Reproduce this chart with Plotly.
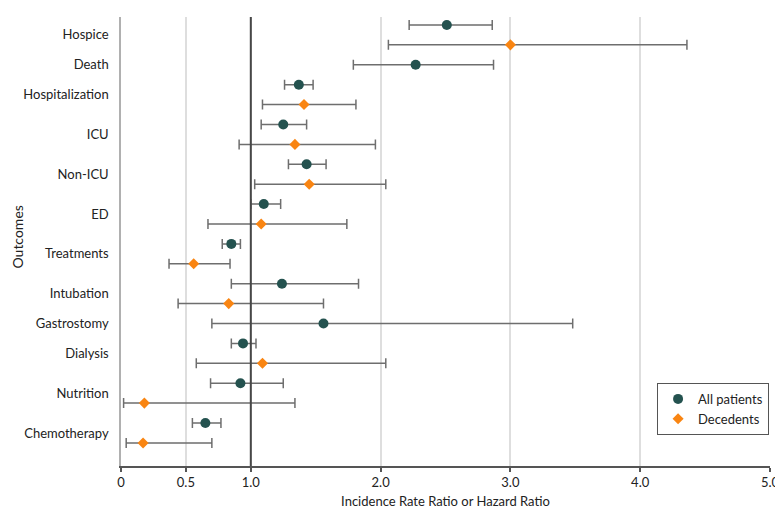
import plotly.graph_objects as go

outcomes = ["Hospice", "Death", "Hospitalization", "ICU", "Non-ICU", "ED",
            "Treatments", "Intubation", "Gastrostomy", "Dialysis", "Nutrition", "Chemotherapy"]

all_est = [2.51, 2.27, 1.37, 1.25, 1.43, 1.10, 0.85, 1.24, 1.56, 0.94, 0.92, 0.65]
all_lo = [2.22, 1.79, 1.26, 1.08, 1.29, 1.00, 0.78, 0.85, 0.70, 0.85, 0.69, 0.55]
all_hi = [2.86, 2.87, 1.48, 1.43, 1.58, 1.23, 0.92, 1.83, 3.48, 1.04, 1.25, 0.77]

dec_est = [3.00, None, 1.41, 1.34, 1.45, 1.08, 0.56, 0.83, None, 1.09, 0.18, 0.17]
dec_lo = [2.06, None, 1.09, 0.91, 1.03, 0.67, 0.37, 0.44, None, 0.58, 0.02, 0.04]
dec_hi = [4.36, None, 1.81, 1.96, 2.04, 1.74, 0.84, 1.56, None, 2.04, 1.34, 0.70]

x_ticks = [0, 0.5, 1, 2, 3, 4, 5]
x_tick_labels = ["0", "0.5", "1.0", "2.0", "3.0", "4.0", "5.0"]

# Build row positions: one row per available estimate, outcome label centred on its rows
row = 0
all_y, dec_y, label_y = [], [], []
for i, name in enumerate(outcomes):
    rows = []
    if all_est[i] is not None:
        all_y.append(row); rows.append(row); row += 1
    else:
        all_y.append(None)
    if dec_est[i] is not None:
        dec_y.append(row); rows.append(row); row += 1
    else:
        dec_y.append(None)
    label_y.append(sum(rows) / len(rows))
n_rows = row


def series(est, lo, hi, ys):
    xs, yy, ep, em = [], [], [], []
    for e, l, h, y in zip(est, lo, hi, ys):
        if e is None:
            continue
        xs.append(e); yy.append(y); ep.append(h - e); em.append(e - l)
    return xs, yy, ep, em


TEAL = "#24524F"
ORANGE = "#F98512"
ERR = "#6E6E6E"

fig = go.Figure()
ax, ay, aep, aem = series(all_est, all_lo, all_hi, all_y)
fig.add_trace(go.Scatter(
    x=ax, y=ay, mode="markers", name="All patients",
    marker=dict(symbol="circle", size=10, color=TEAL),
    error_x=dict(type="data", symmetric=False, array=aep, arrayminus=aem,
                 color=ERR, thickness=1.5, width=5),
))
dx, dy, dep, dem = series(dec_est, dec_lo, dec_hi, dec_y)
fig.add_trace(go.Scatter(
    x=dx, y=dy, mode="markers", name="Decedents",
    marker=dict(symbol="diamond", size=8.5, color=ORANGE),
    error_x=dict(type="data", symmetric=False, array=dep, arrayminus=dem,
                 color=ERR, thickness=1.5, width=5),
))

fig.add_shape(type="line", xref="x", yref="paper", x0=1, x1=1, y0=0, y1=1,
              line=dict(color="#474747", width=2), layer="above")

fig.add_annotation(text="Outcomes", xref="paper", yref="paper", x=-0.161, y=0.51,
                   xanchor="center", yanchor="middle", textangle=-90, showarrow=False,
                   font=dict(size=14))

FONT = "Lato, 'Open Sans', sans-serif"
fig.update_layout(
    width=775, height=512,
    margin=dict(l=113, r=13, t=9, b=54),
    paper_bgcolor="white", plot_bgcolor="white",
    font=dict(family=FONT, size=13, color="#222222"),
    showlegend=True,
    legend=dict(x=0.826, y=0.185, xanchor="left", yanchor="top",
                bordercolor="#555555", borderwidth=1, bgcolor="white",
                font=dict(size=13), itemwidth=30, tracegroupgap=0),
    xaxis=dict(range=[0, 5], tickvals=x_ticks, ticktext=x_tick_labels,
               showgrid=True, gridcolor="#DEDEDE", gridwidth=1.5,
               zeroline=False, showline=True, linecolor="#555555", linewidth=1.5,
               ticks="outside", ticklen=4, tickcolor="#555555", tickwidth=1.5,
               title=dict(text="Incidence Rate Ratio or Hazard Ratio", standoff=8,
                          font=dict(size=13)),
               automargin=False),
    yaxis=dict(range=[n_rows - 1 + 1.16, -0.40], tickvals=label_y, ticktext=outcomes,
               showgrid=False, zeroline=False, showline=True, linecolor="#B0B0B0",
               linewidth=1.5, ticks="", ticklabelstandoff=8,
               automargin=False),
)

fig.write_html("out.html")
